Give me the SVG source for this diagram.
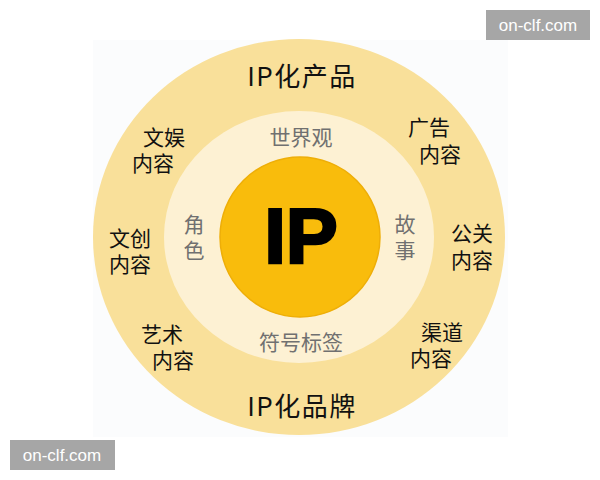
<svg xmlns="http://www.w3.org/2000/svg" width="600" height="480" viewBox="0 0 600 480">
<style>
.cjk{font-family:"Noto Sans CJK SC","Noto Sans",sans-serif;}
.outer{font-size:21px;fill:#111;}
.title{font-size:26px;fill:#111;letter-spacing:1.5px;}
.mid{font-size:21px;fill:#707070;}
.wm{font-family:"Liberation Sans","DejaVu Sans",sans-serif;font-size:17px;fill:#fff;}
</style>
<rect width="600" height="480" fill="#fff"/>
<rect x="93" y="40" width="415" height="397" fill="#fbfcfd"/>
<g id="outer-ring">
<ellipse cx="299" cy="237" rx="206" ry="198" fill="#f9e09a"/>
</g>
<g id="middle-ring">
<ellipse cx="299" cy="237" rx="135" ry="126" fill="#fdf1d3"/>
</g>
<g id="core">
<circle cx="300" cy="237" r="80" fill="#f9bc0c" stroke="#eeae08" stroke-width="1.5"/>
<text x="301" y="263" text-anchor="middle" font-family="Liberation Sans,Arial,sans-serif" font-weight="bold" font-size="78" fill="#000" stroke="#000" stroke-width="2.5" stroke-linejoin="miter">IP</text>
</g>
<g id="top-label"><text class="cjk title" x="302" y="86" text-anchor="middle">IP化产品</text></g>
<g id="bottom-label"><text class="cjk title" x="302" y="416" text-anchor="middle">IP化品牌</text></g>
<g id="worldview"><text class="cjk mid" x="301" y="145" text-anchor="middle">世界观</text></g>
<g id="symbols"><text class="cjk mid" x="301" y="350" text-anchor="middle">符号标签</text></g>
<g id="role"><text class="cjk mid" text-anchor="middle"><tspan x="194" y="232">角</tspan><tspan x="194" y="258">色</tspan></text></g>
<g id="story"><text class="cjk mid" text-anchor="middle"><tspan x="405" y="232">故</tspan><tspan x="405" y="258">事</tspan></text></g>
<g id="ent"><text class="cjk outer" text-anchor="middle"><tspan x="164" y="145">文娱</tspan><tspan x="153" y="171">内容</tspan></text></g>
<g id="ad"><text class="cjk outer" text-anchor="middle"><tspan x="429" y="135">广告</tspan><tspan x="440" y="162">内容</tspan></text></g>
<g id="creative"><text class="cjk outer" text-anchor="middle"><tspan x="130" y="246">文创</tspan><tspan x="130" y="272">内容</tspan></text></g>
<g id="pr"><text class="cjk outer" text-anchor="middle"><tspan x="472" y="241">公关</tspan><tspan x="472" y="268">内容</tspan></text></g>
<g id="art"><text class="cjk outer" text-anchor="middle"><tspan x="162" y="342">艺术</tspan><tspan x="173" y="368">内容</tspan></text></g>
<g id="channel"><text class="cjk outer" text-anchor="middle"><tspan x="442" y="340">渠道</tspan><tspan x="431" y="366">内容</tspan></text></g>
<g id="connectors"></g>
<g id="watermark-top"><rect x="486" y="10" width="104" height="30" fill="#a6a6a6"/><text class="wm" x="538" y="31" text-anchor="middle">on-clf.com</text></g>
<g id="watermark-bottom"><rect x="10" y="440" width="105" height="30" fill="#a6a6a6"/><text class="wm" x="62" y="461" text-anchor="middle">on-clf.com</text></g>
</svg>
